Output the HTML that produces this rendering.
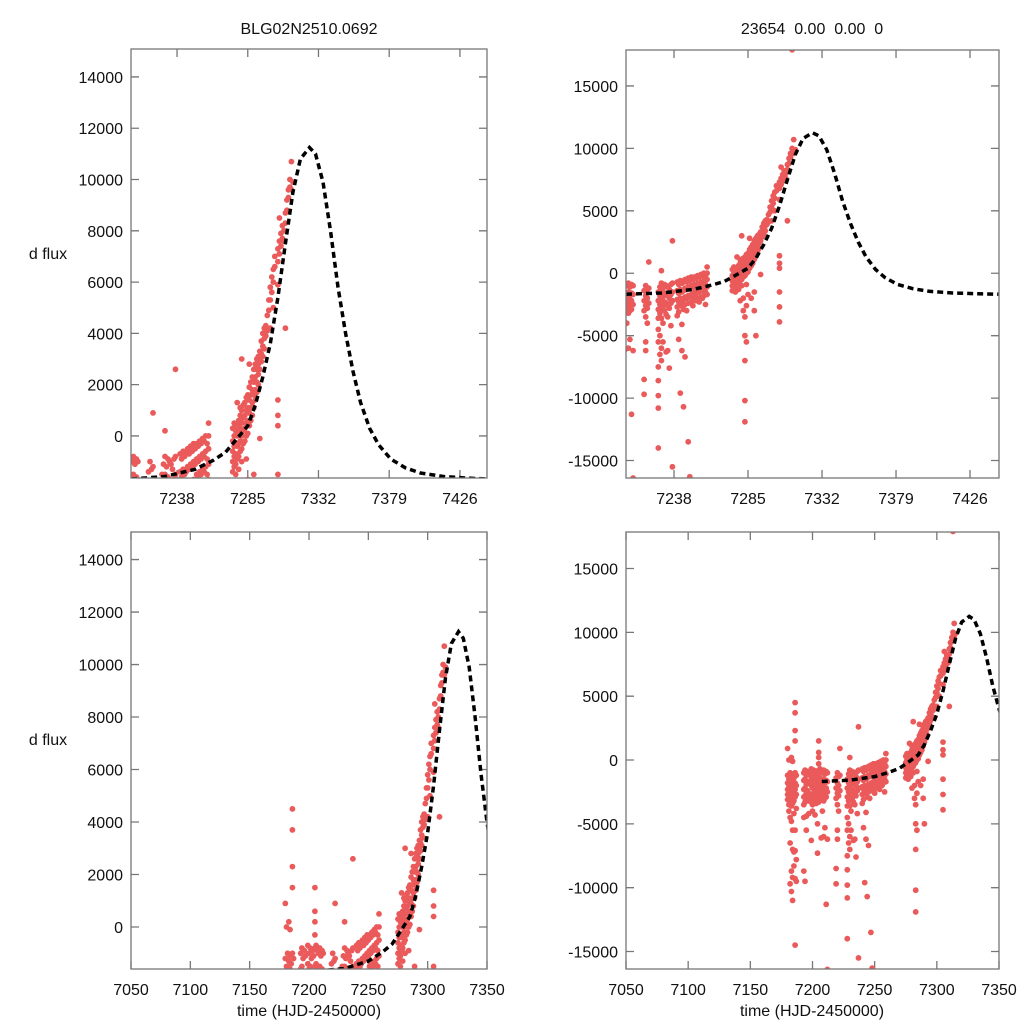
<!DOCTYPE html>
<html><head><meta charset="utf-8"><style>
html,body{margin:0;padding:0;background:#fff;width:1024px;height:1024px;overflow:hidden;}
svg{display:block;font-family:"Liberation Sans",sans-serif;}
</style></head><body>
<svg id="chart" width="1024" height="1024" viewBox="0 0 1024 1024" xmlns="http://www.w3.org/2000/svg">
<rect width="1024" height="1024" fill="#fff"/>
<text x="309" y="34" font-size="16" text-anchor="middle" fill="#111">BLG02N2510.0692</text>
<text x="812" y="34" font-size="16" text-anchor="middle" fill="#111" xml:space="preserve">23654  0.00  0.00  0</text>
<text x="48" y="259" font-size="16" text-anchor="middle" fill="#111">d flux</text>
<text x="48" y="745" font-size="16" text-anchor="middle" fill="#111">d flux</text>
<text x="309" y="1016" font-size="16" text-anchor="middle" fill="#111">time (HJD-2450000)</text>
<text x="812" y="1016" font-size="16" text-anchor="middle" fill="#111">time (HJD-2450000)</text>
</svg>
<script>
const modelTime = [7207.5,7230,7250,7262,7270,7278,7285,7290,7295,7300,7305,7310,7315,7320,7326,7330,7335,7340,7345,7350,7355,7360,7366,7372,7380,7390,7400,7415,7430,7444];
const modelFlux = [-1680,-1580,-1300,-950,-650,-100,400,1200,2300,3600,5400,7500,9500,10800,11250,11000,9900,8000,5800,4000,2500,1300,300,-350,-900,-1250,-1450,-1580,-1640,-1680];
const streakTime = [7180,7181,7182,7183,7184,7185,7186,7187,7193,7194,7195,7196,7197,7199,7200,7201,7202,7203,7204,7205,7206,7207,7208,7209,7210,7211,7212,7219,7220,7221,7222,7228,7229,7230,7231,7232,7233,7234,7235,7236,7237,7240,7241,7242,7243,7244,7245,7246,7247,7248,7249,7250,7251,7252,7253,7254,7255,7256,7257,7258,7259,7275,7276,7277,7278,7279,7280,7281,7282,7283,7284,7285,7286,7287,7288,7289,7290,7291,7292,7293,7294,7295,7296,7297,7298,7299,7300,7301,7302,7303,7305,7306,7307,7308,7309,7310,7311,7312,7313,7314,7315];
const streakFlux = [
[-1200,-1800,-2300,-2700,-3100,900],[-1500,-2000,-2500,-3000,-3500,-4000,0],[-1000,-1700,-2200,-2600,-3300,-4500,-6500,-9700],[-1300,-1900,-2400,-2900,-3600,-4800,-8700,-10300,200],[-1100,-1600,-2100,-2800,-3400,-5500,-7000,-9200,-11000,-100],[-1400,-2000,-2600,-3200,-4200,-7200,-8300],[-1000,-1800,-2300,-2900,4500,3700,2300,1500,-14500,-5500,-7100,-9300],[-1200,-2000,-2700,-3800,-7800,-9500],
[-1000,-1600,-2300,-2900,-3500,-4500,-8700],[-800,-1500,-2200,-2800,-3300,-9500],[-1200,-1900,-2500,-3100,-4400,-5500],[-900,-1700,-2400,-3000],[-1100,-1800,-2600,-3200,-4200],
[-700,-1400,-2000,-2700,-3300,-6300],[-1000,-1600,-2200,-2900,-3500,-4000],[-800,-1500,-2100,-2600,-3100],[-1200,-1900,-2500,-3000,-4300],[-900,-1700,-2300,-2800,-3400],[-1100,-1800,-2400,-3200,-7300,-5000],[1500,600,200,-300,-800,-1500,-2000,-2700,-3300],[-700,-1400,-2000,-2600,-3000],[-900,-1600,-2200,-2900,-6100],[-1000,-1700,-2300,-2800,-4000],[-800,-1500,-2100,-2700,-3200,-6000],[-1100,-1800,-2400,-3000,-5300],[-900,-1600,-2200,-2900,-11300],[-1000,-1700,-2500,-6200,-16400],
[-1400,-2200,-3000,-8500,-9700],[-1000,-1800,-2600,-3500,-5500,-6200],[-1300,-2000,-2800,-4000],[-1200,-2400,900],
[-1500,-2200,-2900,-3600,-4500,-5500,-7500,-8600,-9800,-10800,-14000],[-1100,-1800,-2500,-3200,-5000,-6500],[-800,-1500,-2100,-2800,-3600,-6000,-7000,200],[-1200,-1900,-2600,-4000,-5500],[-900,-1600,-2300,-3000],[-1000,-1700,-2400,-3300,-6300],[-1100,-1800,-2600,-3500,-6200],[-1300,-2000,-2800,-7600],[-900,-1700,-2400,-4200],[-800,-1500,-2200,2600,-15500],
[-700,-1400,-2100,-2700,-3400],[-900,-1600,-2300,-3100,-5300],[-600,-1300,-2000,-2600,-9600],[-800,-1500,-2200,-4100,-6200],[-700,-1400,-2100,-2900,-10700],[-500,-1200,-1900,-2500,-6700],[-700,-1300,-2000,-3000],[-400,-1100,-1800,-2400,-13500],[-600,-1200,-1900,-16300],[-300,-1000,-1700,-2300],[-500,-1100,-1800,-2600],[-300,-900,-1500,-2100],[-400,-1000,-1600,-2200],[-200,-800,-1400,-2000],[-300,-900,-1500,-2300],[-100,-700,-1300,-1900],[-200,-800,-1400,-2000],[0,-600,-1200,-1800],[-300,-900,-1500,-2500],[500,0,-500,-1100,-1700],
[-200,-600,-1000,-1400,300],[0,-400,-800,-1200,500],[200,-300,-700,-1100,-1500],[400,0,-400,-900,1300],[600,100,-300,-800,-1300],[800,300,-200,-600,1100,-2200],[1000,500,0,-500,3000,-1000],[1200,700,200,-300,-2000,-3000],[1300,800,300,-200,-3500,-5000,-7000,-10200,-11900],[1500,1000,500,0,-900,-2600,-5500],[1600,1100,600,100,-1700],[1900,1400,900,400,2800],[2100,1600,1100,600,-2000],[2300,1800,1300,800],[2600,2100,1600,1100,-1500,-3000],[2800,2300,1800,1400,-5000],[3000,2600,2100,1700],[3100,2800,2400,2000],[3300,3000,2600,-100],[3700,3200,2900],[4000,3500,3100],[4200,3800,3400],
[4300,3900],[4700,4100],[5300,4900],[5800,5300,4200],[6200,5600],[6500,6000,5000],[7000,6600],[7300,6800,1400,800,400,-1500,-2700,-3900,5900],[7600,7100,8500],[7900,7400],[8200,7700],[8000,7600],[8700,8300,4200],[9200,8800],[9600,9300],[9700,10000,17900],[10700,9600],[9900]
];
const topXTicks = [7238,7285,7332,7379,7426];
const bottomXTicks = [7050,7100,7150,7200,7250,7300,7350];
const leftYTicks = [0,2000,4000,6000,8000,10000,12000,14000];
const rightYTicks = [-15000,-10000,-5000,0,5000,10000,15000];

const NS = 'http://www.w3.org/2000/svg';
const svg = document.getElementById('chart');
function mk(tag, attrs, parent) {
  const e = document.createElementNS(NS, tag);
  for (const k in attrs) e.setAttribute(k, attrs[k]);
  (parent || svg).appendChild(e);
  return e;
}
const panels = [
  {id:'top-left', x0:131, x1:487, y0:49, y1:478, tmin:7207.4, tmax:7444, fmin:-1640, fmax:15090, xt:topXTicks, yt:leftYTicks},
  {id:'top-right', x0:626, x1:999, y0:50, y1:478, tmin:7207.5, tmax:7444.4, fmin:-16400, fmax:17880, xt:topXTicks, yt:rightYTicks},
  {id:'bottom-left', x0:131, x1:487, y0:532, y1:969, tmin:7050, tmax:7350, fmin:-1600, fmax:15050, xt:bottomXTicks, yt:leftYTicks},
  {id:'bottom-right', x0:626, x1:999, y0:532, y1:969, tmin:7050, tmax:7350, fmin:-16370, fmax:17860, xt:bottomXTicks, yt:rightYTicks}
];
panels.forEach(function(p){
  const sx = t => p.x0 + (t - p.tmin) / (p.tmax - p.tmin) * (p.x1 - p.x0);
  const sy = f => p.y1 - (f - p.fmin) / (p.fmax - p.fmin) * (p.y1 - p.y0);
  const g = mk('g', {});
  
  
  const cp = mk('clipPath', {id:'clip-' + p.id}, g);
  mk('rect', {x:p.x0, y:p.y0, width:p.x1-p.x0, height:p.y1-p.y0}, cp);
  p.xt.forEach(function(t){
    const x = sx(t);
    const tk = mk('path', {d:'M'+x+' '+p.y1+'v-8M'+x+' '+p.y0+'v8', stroke:'#777', 'stroke-width':1.3}, g);
    
    
    const lb = mk('text', {x:x, y:p.y1+26, 'font-size':16, 'text-anchor':'middle', fill:'#111'}, g);
    lb.textContent = t;
    
    
  });
  p.yt.forEach(function(f){
    const y = sy(f);
    const tk = mk('path', {d:'M'+p.x0+' '+y+'h8M'+p.x1+' '+y+'h-8', stroke:'#777', 'stroke-width':1.3}, g);
    
    
    const lb = mk('text', {x:p.x0-8, y:y+6, 'font-size':16, 'text-anchor':'end', fill:'#111'}, g);
    lb.textContent = f;
    
    
  });
  const pg = mk('g', {'clip-path':'url(#clip-' + p.id + ')', fill:'#eb5a5a'}, g);
  
  
  streakTime.forEach(function(t, i){
    if (t < p.tmin - 1 || t > p.tmax + 1) return;
    streakFlux[i].forEach(function(f){
      if (f < p.fmin - 100 || f > p.fmax + 100) return;
      const c = mk('circle', {cx:sx(t).toFixed(1), cy:sy(f).toFixed(1), r:2.9}, pg);
      
      
    });
  });
  const d = modelTime.map((t, i) => (i ? 'L' : 'M') + sx(t).toFixed(1) + ' ' + sy(modelFlux[i]).toFixed(1)).join('');
  const cg = mk('g', {'clip-path':'url(#clip-' + p.id + ')'}, g);
  const ln = mk('path', {d:d, fill:'none', stroke:'#000', 'stroke-width':3.5, 'stroke-dasharray':'6 4'}, cg);
  
  
  const fr = mk('rect', {x:p.x0, y:p.y0, width:p.x1-p.x0, height:p.y1-p.y0, fill:'none', stroke:'#777', 'stroke-width':1.3}, g);
  
  
});
</script>
</body></html>
